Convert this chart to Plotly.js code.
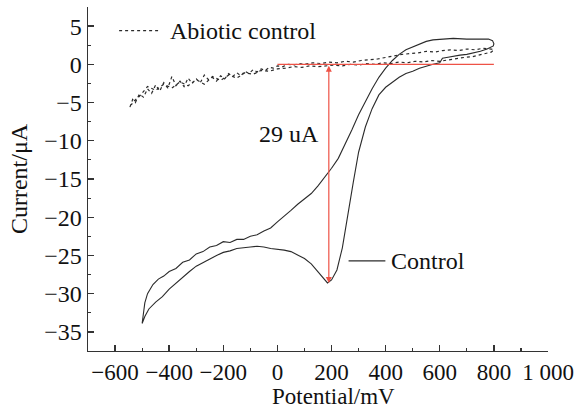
<!DOCTYPE html>
<html>
<head>
<meta charset="utf-8">
<script src="https://cdn.plot.ly/plotly-3.0.1.min.js"></script>
<style>html,body{margin:0;padding:0;background:#fff;}#chart{width:579px;height:411px;}</style>
</head>
<body>
<div id="chart"></div>
<script>
// Control CV: forward (upper) branch
const ctrlFwdPotential = [-500,-495,-490,-480,-470,-460,-440,-420,-400,-375,-350,-325,-300,-275,-250,-225,-200,-175,-150,-125,-100,-75,-50,-25,0,25,50,75,100,125,150,175,200,225,250,275,300,325,350,375,400,425,450,475,500,525,550,575,600,650,700,750,780,795,800];
const ctrlFwdCurrent   = [-33.9,-32.5,-31.2,-30.0,-29.3,-28.8,-28.1,-27.7,-27.1,-26.7,-25.9,-25.6,-24.8,-24.5,-23.9,-23.7,-23.2,-23.3,-22.9,-22.9,-22.5,-22.3,-21.8,-21.4,-20.6,-19.9,-19.1,-18.3,-17.6,-16.9,-15.9,-14.8,-13.6,-12.3,-10.5,-8.6,-6.6,-4.8,-3.2,-1.7,-0.5,0.5,1.3,1.9,2.3,2.7,3.0,3.2,3.3,3.4,3.3,3.3,3.3,3.1,2.7];
// Control CV: reverse (lower) branch
const ctrlRevPotential = [798,775,750,725,700,675,650,625,610,600,575,550,525,500,475,450,425,400,375,350,325,300,280,260,240,220,200,185,170,150,125,100,75,50,25,0,-25,-50,-75,-100,-125,-150,-175,-200,-225,-250,-275,-300,-325,-350,-375,-400,-425,-450,-475,-490,-500];
const ctrlRevCurrent   = [2.4,2.0,1.7,1.5,1.3,1.2,1.0,0.9,0.8,0.2,0.0,-0.2,-0.5,-0.9,-1.2,-1.7,-2.4,-3.0,-4.0,-5.8,-8.2,-11.5,-15.5,-20.0,-24.0,-26.9,-28.2,-28.6,-28.0,-27.2,-26.1,-25.4,-24.9,-24.5,-24.3,-24.2,-24.1,-23.9,-23.8,-23.9,-24.0,-24.1,-24.4,-24.6,-25.0,-25.5,-25.9,-26.4,-27.1,-27.9,-28.6,-29.4,-30.4,-31.1,-32.0,-33.0,-33.9];

// Abiotic control (dotted)
const abioPotential = [-545,-535,-525,-510,-495,-480,-465,-450,-435,-420,-405,-390,-375,-360,-345,-330,-315,-300,-285,-270,-255,-240,-225,-210,-195,-180,-165,-150,-135,-120,-105,-90,-75,-60,-45,-30,-15,0,20,40,60,80,100,130,160,190,220,250,280,310,340,370,400,430,460,490,520,550,580,610,640,670,700,730,760,790,800,
  790,770,750,720,690,660,630,600,570,540,510,480,450,420,390,360,330,300,270,240,210,180,150,120,90,60,30,0,-30,-60,-90,-120,-150,-180,-210,-240,-270,-300,-330,-360,-390,-420,-450,-480,-510,-530,-540];
const abioCurrent = [-5.6,-4.6,-5.0,-3.9,-4.3,-3.2,-3.8,-2.7,-3.5,-2.4,-3.1,-1.6,-2.8,-2.2,-2.9,-1.8,-2.5,-1.9,-2.4,-1.4,-2.0,-1.7,-2.2,-1.5,-1.9,-1.2,-1.6,-1.1,-1.5,-0.9,-1.2,-0.7,-1.0,-0.6,-0.8,-0.4,-0.5,-0.2,-0.3,0.0,-0.1,0.1,0.0,0.2,0.1,0.3,0.2,0.4,0.3,0.5,0.6,0.7,0.9,1.1,1.3,1.4,1.5,1.7,1.6,1.8,1.9,1.8,2.0,1.9,2.1,2.0,1.9,
  1.6,1.4,1.2,1.0,0.9,0.7,0.6,0.4,0.5,0.3,0.4,0.2,0.3,0.1,0.2,0.0,0.1,-0.1,0.0,-0.2,-0.1,-0.2,-0.3,-0.2,-0.4,-0.3,-0.5,-0.6,-0.9,-0.8,-1.3,-1.1,-1.8,-1.4,-2.1,-1.6,-2.6,-2.0,-2.8,-2.3,-3.1,-2.6,-3.4,-2.9,-4.2,-4.8,-5.3];

// Peak marker (29 uA)
const peakPotential = 190;
const peakCurrent = -28.6;
const baselineRange = [0, 800];

// Ticks
const xTickVals = [-600,-400,-200,0,200,400,600,800,1000];
const xTickText = ['\u2212600','\u2212400','\u2212200','0','200','400','600','800','1 000'];
const yTickVals = [-35,-30,-25,-20,-15,-10,-5,0,5];
const yTickText = ['\u221235','\u221230','\u221225','\u221220','\u221215','\u221210','\u22125','0','5'];

const RED = 'rgb(238,82,70)';
const INK = '#2b2b2b';
const FONT = '"Liberation Serif", "Times New Roman", serif';

const traces = [
  {x: ctrlFwdPotential.concat(ctrlRevPotential), y: ctrlFwdCurrent.concat(ctrlRevCurrent),
   mode: 'lines', line: {color: INK, width: 1.1}, name: 'Control', showlegend: false},
  {x: abioPotential, y: abioCurrent, mode: 'lines', line: {color: INK, width: 1.2, dash: 'dot'},
   name: 'Abiotic control', showlegend: false}
];

const layout = {
  width: 579, height: 411,
  margin: {l: 88, r: 31, t: 7, b: 60},
  paper_bgcolor: '#fff', plot_bgcolor: '#fff',
  font: {family: FONT, size: 24, color: '#111'},
  xaxis: {
    range: [-700, 1000], showgrid: false, zeroline: false,
    showline: true, linecolor: '#333', linewidth: 1.4,
    ticks: 'inside', ticklen: 6, tickwidth: 1.4, tickcolor: '#333',
    tickvals: xTickVals, ticktext: xTickText,
    minor: {ticks: 'inside', ticklen: 3, tickwidth: 1.2, tickcolor: '#333', dtick: 100, tick0: 0},
    tickfont: {family: FONT, size: 23, color: '#111'},
    automargin: false
  },
  yaxis: {
    range: [-37.5, 7.5], showgrid: false, zeroline: false,
    showline: true, linecolor: '#333', linewidth: 1.4,
    ticks: 'inside', ticklen: 6, tickwidth: 1.4, tickcolor: '#333',
    tickvals: yTickVals, ticktext: yTickText,
    minor: {ticks: 'inside', ticklen: 3, tickwidth: 1.2, tickcolor: '#333', dtick: 2.5, tick0: 0},
    tickfont: {family: FONT, size: 24, color: '#111'},
    title: {text: 'Current/\u03bcA', font: {family: FONT, size: 24, color: '#111'}, standoff: 10},
    automargin: false
  },
  shapes: [
    {type: 'line', xref: 'x', yref: 'y', x0: baselineRange[0], x1: baselineRange[1], y0: 0, y1: 0,
     line: {color: RED, width: 1.2}},
    {type: 'line', xref: 'x', yref: 'y', x0: -585, x1: -441, y0: 4.4, y1: 4.4,
     line: {color: INK, width: 1.2, dash: 'dot'}},
    {type: 'line', xref: 'x', yref: 'y', x0: 263, x1: 399, y0: -25.7, y1: -25.7,
     line: {color: INK, width: 1.2}}
  ],
  annotations: [
    {x: peakPotential, y: peakCurrent, ax: peakPotential, ay: 0, xref: 'x', yref: 'y', axref: 'x', ayref: 'y',
     text: '', showarrow: true, arrowhead: 2, arrowside: 'end+start', arrowsize: 1, arrowwidth: 1.2,
     arrowcolor: RED, standoff: 0, startstandoff: 0},
    {x: 44, y: -9.1, xref: 'x', yref: 'y', text: '29 uA', showarrow: false,
     font: {family: FONT, size: 24, color: '#111'}},
    {x: -405, y: 4.4, xref: 'x', yref: 'y', xanchor: 'left', text: 'Abiotic control', showarrow: false,
     font: {family: FONT, size: 24, color: '#111'}},
    {x: 414, y: -25.7, xref: 'x', yref: 'y', xanchor: 'left', text: 'Control', showarrow: false,
     font: {family: FONT, size: 24, color: '#111'}},
    {x: 0.533, y: -0.1715, xref: 'paper', yref: 'paper', xanchor: 'center', yanchor: 'bottom',
     borderpad: 0, text: 'Potential/mV', showarrow: false, font: {family: FONT, size: 23, color: '#111'}}
  ]
};

Plotly.newPlot('chart', traces, layout, {displayModeBar: false, staticPlot: true});
</script>
</body>
</html>
